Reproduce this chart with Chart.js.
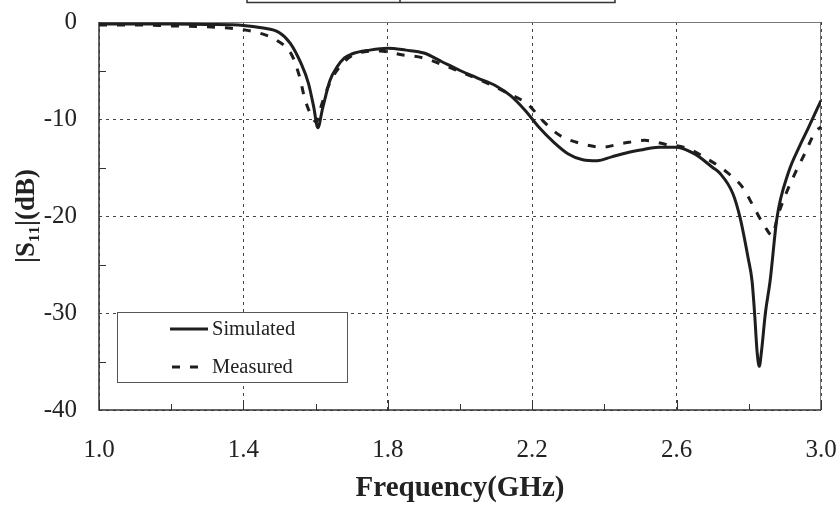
<!DOCTYPE html>
<html>
<head>
<meta charset="utf-8">
<script src="https://cdn.jsdelivr.net/npm/chart.js@4/dist/chart.umd.min.js"></script>
<style>
  html, body { margin: 0; padding: 0; background: #fff; }
  #wrap { width: 838px; height: 512px; position: relative; }
</style>
</head>
<body>
<div id="wrap"><canvas id="s11Chart" width="838" height="512"></canvas></div>
<script>
// values
const simFreq = [1.0, 1.1, 1.2, 1.3, 1.4, 1.45, 1.5, 1.53, 1.56, 1.58, 1.595, 1.606, 1.62, 1.64, 1.66, 1.68, 1.7, 1.75, 1.8, 1.85,
                 1.9, 1.95, 2.0, 2.05, 2.1, 2.14, 2.18, 2.22, 2.26, 2.3, 2.34, 2.38, 2.42, 2.46, 2.5, 2.55, 2.6, 2.65, 2.7,
                 2.72, 2.756, 2.776, 2.798, 2.809, 2.816, 2.823, 2.829, 2.835, 2.846, 2.859, 2.878, 2.909, 2.942, 2.964, 3.0];
const simS11  = [-0.2, -0.2, -0.2, -0.25, -0.35, -0.6, -1.1, -2.2, -4.3, -6.3, -8.8, -10.9, -8.8, -6.0, -4.6, -3.7, -3.3, -2.9, -2.7, -2.9,
                 -3.2, -4.1, -5.0, -5.8, -6.6, -7.6, -9.1, -10.9, -12.4, -13.6, -14.2, -14.3, -13.9, -13.5, -13.2, -12.9, -12.9, -13.6, -15.0,
                 -15.6, -17.7, -20.2, -24.3, -26.7, -30.0, -34.0, -35.5, -34.0, -30.0, -26.7, -20.2, -15.6, -12.7, -11.0, -8.1];

const measFreq = [1.0, 1.1, 1.2, 1.3, 1.4, 1.45, 1.493, 1.534, 1.556, 1.57, 1.593, 1.602, 1.616, 1.639, 1.667, 1.717, 1.778, 1.842,
                  1.898, 1.958, 2.075, 2.13, 2.188, 2.23, 2.277, 2.332, 2.393, 2.452, 2.512, 2.568, 2.628, 2.684, 2.74, 2.784,
                  2.814, 2.848, 2.864, 2.881, 2.903, 2.928, 2.956, 2.983, 3.0];
const measS11  = [-0.3, -0.3, -0.4, -0.5, -0.8, -1.2, -1.9, -3.4, -5.7, -7.9, -10.0, -10.3, -8.6, -6.3, -4.6, -3.2, -3.0, -3.4,
                  -3.7, -4.5, -6.3, -7.3, -8.5, -10.2, -11.7, -12.5, -12.9, -12.5, -12.2, -12.6, -13.0, -14.1, -15.5, -17.1,
                  -19.1, -21.3, -22.0, -19.9, -17.7, -15.6, -13.5, -11.4, -10.8];

const seriesNames = ["Simulated", "Measured"];
const xMinorTicks = [1.2, 1.6, 2.0, 2.4, 2.8];
const yMinorTicks = [-5, -15, -25, -35];

const serif = "'Liberation Serif', 'Times New Roman', 'DejaVu Serif', serif";
const ink = "#222";

const toPoints = (xs, ys) => xs.map((x, i) => ({ x: x, y: ys[i] }));

// frame, inward ticks, inset legend and the clipped box at the top edge
const decorPlugin = {
    id: "decor",
    beforeDatasetsDraw(chart) {
        const { ctx, chartArea: a, scales } = chart;
        ctx.save();
        ctx.setLineDash([]);
        // top + right edges are lighter in the scan
        ctx.strokeStyle = "#777";
        ctx.lineWidth = 1;
        ctx.beginPath();
        ctx.moveTo(a.left, a.top + 0.5);
        ctx.lineTo(a.right - 0.5, a.top + 0.5);
        ctx.lineTo(a.right - 0.5, a.bottom);
        ctx.stroke();
        ctx.strokeStyle = "#333";
        ctx.lineWidth = 1.5;
        ctx.beginPath();
        ctx.moveTo(a.left, a.top);
        ctx.lineTo(a.left, a.bottom);
        ctx.lineTo(a.right, a.bottom);
        ctx.stroke();

        ctx.lineWidth = 1;
        ctx.beginPath();
        xMinorTicks.forEach(v => {
            const px = Math.round(scales.x.getPixelForValue(v)) + 0.5;
            ctx.moveTo(px, a.bottom);
            ctx.lineTo(px, a.bottom - 6);
        });
        scales.x.ticks.forEach(t => {
            const px = Math.round(scales.x.getPixelForValue(t.value)) + 0.5;
            ctx.moveTo(px, a.bottom);
            ctx.lineTo(px, a.bottom - 10);
        });
        yMinorTicks.forEach(v => {
            const py = Math.round(scales.y.getPixelForValue(v)) + 0.5;
            ctx.moveTo(a.left, py);
            ctx.lineTo(a.left + 7, py);
        });
        ctx.stroke();

        // clipped box from the figure above
        ctx.strokeStyle = "#333";
        ctx.lineWidth = 1.5;
        ctx.beginPath();
        ctx.moveTo(247, 0); ctx.lineTo(247, 2.5);
        ctx.lineTo(615, 2.5); ctx.lineTo(615, 0);
        ctx.moveTo(400, 0); ctx.lineTo(400, 2.5);
        ctx.stroke();
        ctx.restore();
    },
    afterDatasetsDraw(chart) {
        const { ctx } = chart;
        const box = { left: 117, top: 312, right: 347, bottom: 382 };
        ctx.save();
        ctx.setLineDash([]);
        ctx.fillStyle = "#fff";
        ctx.fillRect(box.left, box.top, box.right - box.left, box.bottom - box.top);
        ctx.strokeStyle = "#555";
        ctx.lineWidth = 1;
        ctx.strokeRect(box.left + 0.5, box.top + 0.5, box.right - box.left, box.bottom - box.top);

        const rowsY = [329, 367];
        chart.data.datasets.forEach((ds, i) => {
            const y = rowsY[i];
            ctx.strokeStyle = ds.borderColor;
            ctx.lineWidth = ds.borderWidth;
            ctx.setLineDash(ds.borderDash || []);
            ctx.beginPath();
            ctx.moveTo(i === 0 ? 170 : 172, y);
            ctx.lineTo(i === 0 ? 208 : 200, y);
            ctx.stroke();
            ctx.setLineDash([]);
            ctx.fillStyle = ink;
            ctx.font = "20.5px " + serif;
            ctx.textBaseline = "middle";
            ctx.textAlign = "left";
            ctx.fillText(ds.label, 212, y + 1);
        });
        ctx.restore();
    }
};

const ctx = document.getElementById("s11Chart").getContext("2d");
new Chart(ctx, {
    type: "line",
    data: {
        datasets: [
            {
                label: seriesNames[0],
                data: toPoints(simFreq, simS11),
                borderColor: "#1e1e1e",
                borderWidth: 3,
                pointRadius: 0,
                cubicInterpolationMode: "monotone",
                fill: false
            },
            {
                label: seriesNames[1],
                data: toPoints(measFreq, measS11),
                borderColor: "#1e1e1e",
                borderWidth: 3,
                borderDash: [8, 10],
                pointRadius: 0,
                cubicInterpolationMode: "monotone",
                fill: false
            }
        ]
    },
    options: {
        responsive: false,
        animation: false,
        layout: { padding: { top: 22, right: 17, left: 0, bottom: 0 } },
        plugins: {
            legend: { display: false },
            tooltip: { enabled: false }
        },
        scales: {
            x: {
                type: "linear",
                min: 1.0,
                max: 3.0,
                afterFit: s => { s.height = 102; s.paddingLeft = 0; s.paddingRight = 0; },
                ticks: {
                    stepSize: 0.4,
                    padding: 25,
                    color: ink,
                    font: { family: serif, size: 25 },
                    maxRotation: 0,
                    callback: v => Number(v).toFixed(1)
                },
                grid: { color: "#444", lineWidth: 1, drawTicks: false },
                border: { display: false, dash: [3, 4] },
                title: {
                    display: true,
                    text: "Frequency(GHz)",
                    color: ink,
                    font: { family: serif, size: 29, weight: "bold" },
                    padding: { top: 0, bottom: 6 }
                }
            },
            y: {
                min: -40,
                max: 0,
                afterFit: s => { s.width = 99; s.paddingTop = 0; s.paddingBottom = 0; },
                ticks: {
                    stepSize: 10,
                    padding: 22,
                    color: ink,
                    font: { family: serif, size: 25 },
                    callback: v => String(v)
                },
                grid: { color: "#444", lineWidth: 1, drawTicks: false },
                border: { display: false, dash: [3, 4] },
                title: {
                    display: true,
                    text: "|S\u2081\u2081|(dB)",
                    color: ink,
                    font: { family: serif, size: 27, weight: "bold" },
                    padding: { top: 11, bottom: 0 }
                }
            }
        }
    },
    plugins: [decorPlugin]
});
</script>
</body>
</html>
